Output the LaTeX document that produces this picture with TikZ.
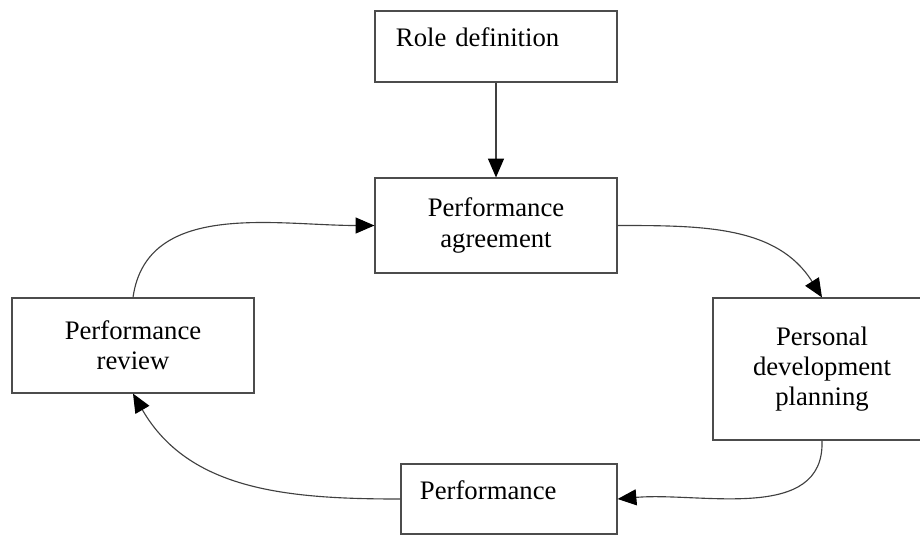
\documentclass[tikz,border=0pt]{standalone}
\usepackage{fontspec}
\setmainfont{Liberation Serif}
\usetikzlibrary{positioning,arrows.meta}

\tikzset{
    block/.style={draw=black!70, line width=0.8pt, align=center, inner sep=0pt,
        font=\fontsize{19}{21.5}\selectfont},
    oneline/.style={block, align=left, text height=10pt, text depth=10pt},
    link/.style={draw=black!75, line width=0.8pt}
}

\begin{document}
\begin{tikzpicture}[x=0.025cm, y=-0.025cm, >={Triangle[length=0.47cm, width=0.4cm, color=black]},
    every edge/.style={link}]

    \useasboundingbox (0,0) rectangle (920,535);

    \node[oneline, text width=5cm, inner xsep=0.525cm, minimum height=1.775cm] (role) at (496, 46.5) {Role definition};
    \node[block, minimum width=6.05cm, minimum height=2.375cm] (agree) at (496, 225.5) {Performance\\agreement};
    \node[block, minimum width=5.45cm, minimum height=3.55cm] (pdp) at (822, 369) {Personal\\development\\planning};
    \node[block, minimum width=6.05cm, minimum height=2.375cm] (review) at (133, 345.5) {Performance\\review};
    \node[oneline, text width=4.45cm, inner xsep=0.475cm, minimum height=1.75cm] (perf) at (509, 499) {Performance};

    \path[->]
        (role) edge (agree)
        (agree.east) edge[out=0, in=122] (pdp.north)
        (pdp.south) edge[out=-88, in=5] (perf.east)
        (perf.west) edge[out=180, in=-60] (review.south)
        (review.north) edge[out=82, in=180] (agree.west);
\end{tikzpicture}
\end{document}
